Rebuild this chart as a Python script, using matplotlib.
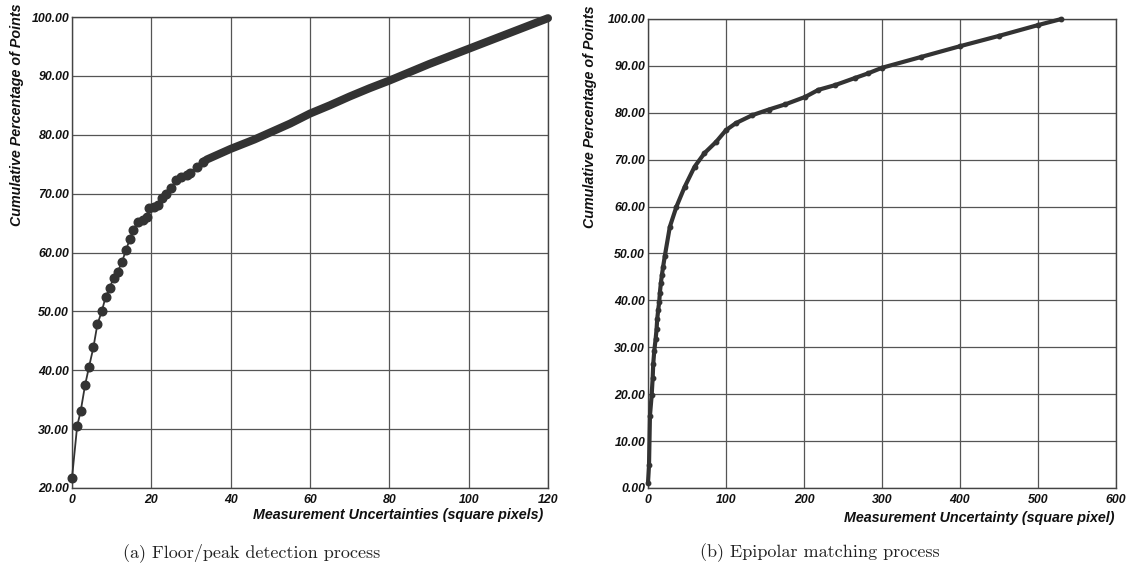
import matplotlib
matplotlib.use("Agg")
import matplotlib.pyplot as plt

# (a) floor/peak detection: individual measurements (sparse region)
floor_x = [0.0, 1.3, 2.2, 3.3, 4.3, 5.4, 6.4, 7.5, 8.5, 9.5, 10.5, 11.5, 12.6,
           13.6, 14.6, 15.4, 16.6, 17.8, 18.8, 19.4, 20.6, 21.6, 22.8, 23.8,
           25.0, 26.3, 27.6, 29.0, 29.7, 31.4, 33.0]
floor_y = [21.7, 30.5, 33.1, 37.5, 40.6, 43.9, 47.8, 50.0, 52.5, 54.0, 55.7,
           56.7, 58.4, 60.4, 62.3, 63.8, 65.2, 65.5, 66.0, 67.5, 67.7, 68.0,
           69.2, 70.0, 70.9, 72.3, 72.8, 73.2, 73.5, 74.5, 75.3]
# (a) dense tail of the cumulative curve
floor_tail_x = [33.0, 34, 36, 38, 40, 43, 46, 50, 55, 60, 65, 70, 75, 80, 85,
                90, 95, 100, 105, 110, 115, 120]
floor_tail_y = [75.3, 75.8, 76.4, 77.0, 77.6, 78.4, 79.2, 80.4, 81.9, 83.6,
                85.0, 86.5, 87.9, 89.2, 90.6, 92.0, 93.3, 94.6, 95.9, 97.2,
                98.5, 99.8]

# (b) epipolar matching cumulative curve
epi_x = [0.0, 1.3, 2.5, 4.7, 6.0, 6.7, 8.0, 9.8, 11.0, 11.8, 13.1, 14.4, 15.2,
         16.5, 17.8, 19.4, 21.6, 28, 36.5, 47, 59.7, 72.4, 87.3, 100, 112.7,
         133.8, 155, 176, 201.7, 218.5, 239.8, 265, 282, 300, 350, 400, 450,
         500, 530]
epi_y = [1.1, 4.9, 15.4, 19.8, 23.5, 26.4, 29.2, 31.8, 33.9, 36.0, 38.0, 39.7,
         41.6, 43.7, 45.4, 47.2, 49.5, 55.7, 60.0, 64.2, 68.5, 71.4, 73.8,
         76.3, 77.8, 79.5, 80.7, 81.8, 83.4, 84.9, 85.9, 87.4, 88.4, 89.6,
         91.9, 94.2, 96.4, 98.7, 100.0]

a_xticks = [0, 20, 40, 60, 80, 100, 120]
a_yticks = [20, 30, 40, 50, 60, 70, 80, 90, 100]
b_xticks = [0, 100, 200, 300, 400, 500, 600]
b_yticks = [0, 10, 20, 30, 40, 50, 60, 70, 80, 90, 100]

W, H = 1128, 571
fig = plt.figure(figsize=(W / 100, H / 100), dpi=100)

tick_font = dict(family="Liberation Sans", weight="bold", style="italic",
                 size=8.8, color="#111111")
label_font = dict(family="Liberation Sans", weight="bold", style="italic",
                  size=10.3, color="#111111")
cap_font = dict(family="cmr10", size=13, color="#222222")
line_col = "#333333"
grid_col = "#555555"


def px_axes(left, top, right, bottom):
    return fig.add_axes([left / W, 1 - bottom / H, (right - left) / W,
                         (bottom - top) / H])


def style(ax, xt, yt):
    ax.set_xticks(xt)
    ax.set_yticks(yt)
    ax.set_xticklabels([str(v) for v in xt], **tick_font)
    ax.set_yticklabels([f"{v:.2f}" for v in yt], **tick_font)
    ax.tick_params(length=0, pad=2)
    ax.tick_params(axis="x", pad=4)
    ax.grid(True, color=grid_col, linewidth=0.9)
    ax.set_axisbelow(True)
    for s in ax.spines.values():
        s.set_color("#444444")
        s.set_linewidth(1.0)


ax1 = px_axes(72, 17, 548, 488)
ax1.set_xlim(0, 120)
ax1.set_ylim(20, 100)
style(ax1, a_xticks, a_yticks)
ax1.plot(floor_tail_x, floor_tail_y, color=line_col, lw=5.8,
         solid_capstyle="round", clip_on=False, zorder=3)
ax1.plot(floor_x, floor_y, "-o", color=line_col, lw=1.3, ms=6.2,
         clip_on=False, zorder=4)

ax2 = px_axes(648, 19, 1116, 488)
ax2.set_xlim(0, 600)
ax2.set_ylim(0, 100)
style(ax2, b_xticks, b_yticks)
ax2.plot(epi_x, epi_y, "-o", color=line_col, lw=3.0, ms=3.2,
         solid_capstyle="round", clip_on=False, zorder=3)

# axis titles
fig.text(17 / W, 1 - 3 / H, "Cumulative Percentage of Points", rotation=90,
         ha="center", va="top", **label_font)
fig.text(590 / W, 1 - 5 / H, "Cumulative Percentage of Points", rotation=90,
         ha="center", va="top", **label_font)
fig.text(543 / W, 1 - 515 / H, "Measurement Uncertainties (square pixels)",
         ha="right", va="center", **label_font)
fig.text(1114 / W, 1 - 518 / H, "Measurement Uncertainty (square pixel)",
         ha="right", va="center", **label_font)

# sub-figure captions
fig.text(252 / W, 1 - 553 / H, "(a) Floor/peak detection process",
         ha="center", va="center", **cap_font)
fig.text(820 / W, 1 - 553 / H, "(b) Epipolar matching process",
         ha="center", va="center", **cap_font)

fig.savefig("out.png", dpi=100, facecolor="white")
